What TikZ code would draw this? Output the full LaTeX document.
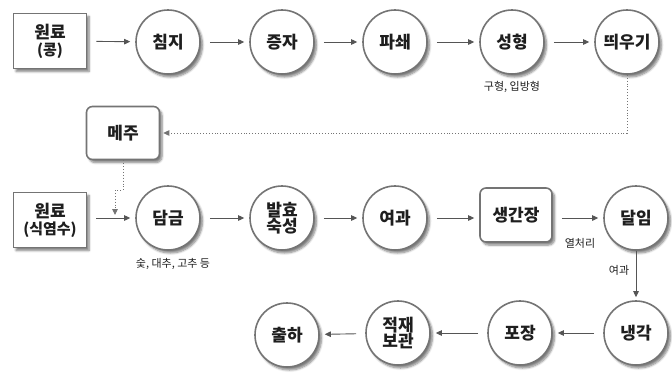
\documentclass[tikz,border=0pt]{standalone}
\usepackage{fontspec}
\setmainfont{Noto Sans CJK KR}
\usetikzlibrary{arrows.meta,shadows.blur}
\definecolor{edgegray}{HTML}{747474}
\definecolor{arrowgray}{HTML}{555555}
\definecolor{txt}{HTML}{1E1E1E}
\begin{document}
\begin{tikzpicture}[x=1pt,y=-1pt,
  shd/.style={blur shadow={shadow xshift=2.5pt,shadow yshift=-3pt,shadow blur steps=6,shadow opacity=50}},
  proc/.style={circle,draw=edgegray,line width=1.6pt,fill=white,minimum size=64pt,inner sep=0pt,shd,
    font=\fontsize{17}{19}\selectfont\bfseries,text=txt,align=center},
  srcbox/.style={rectangle,draw=edgegray,line width=1.6pt,fill=white,minimum width=73pt,minimum height=55pt,inner sep=0pt,shd,
    font=\fontsize{17}{19}\selectfont\bfseries,text=txt,align=center},
  rbox/.style={srcbox,rounded corners=6pt,minimum height=53pt},
  note/.style={font=\fontsize{11}{13}\selectfont,text=txt},
  flow/.style={draw=arrowgray,line width=0.9pt,-{Triangle[length=6pt,width=5.5pt]},shorten <=9pt,shorten >=5pt},
  dflow/.style={draw=edgegray,line width=0.9pt,dotted,-{Triangle[length=6pt,width=5.5pt]}}
]
\useasboundingbox (0,0) rectangle (672,373);
% row 1
\node[srcbox] (s1) at (50,41) {원료\\[-2pt]{\fontsize{15}{17}\selectfont (콩)}};
\node[proc] (c1) at (168,42) {침지};
\node[proc] (c2) at (282,42) {증자};
\node[proc] (c3) at (395,42) {파쇄};
\node[proc] (c4) at (512,42) {성형};
\node[proc] (c5) at (627,42) {띄우기};
\node[note] (n1) at (512,87) {구형, 입방형};
% row 2
\node[rbox] (meju) at (123,133) {메주};
\node[srcbox] (s2) at (50,220) {원료\\[-2pt]{\fontsize{15}{17}\selectfont (식염수)}};
\node[proc] (d1) at (168,218) {담금};
\node[proc] (d2) at (282,218) {발효\\[-3pt]숙성};
\node[proc] (d3) at (395,218) {여과};
\node[rbox,minimum width=72pt,minimum height=54pt] (raw) at (516,215) {생간장};
\node[proc] (d4) at (636,218) {달임};
\node[note] (n2) at (173,264) {숯, 대추, 고추 등};
\node[note] (n3) at (580,243) {열처리};
\node[note] (n4) at (619,270) {여과};
% row 3
\node[proc] (e1) at (636,333) {냉각};
\node[proc] (e2) at (520,333) {포장};
\node[proc] (e3) at (398,333) {적재\\[-3pt]보관};
\node[proc] (e4) at (287,335) {출하};
% arrows
\draw[flow] (s1) -- (c1);
\draw[flow] (c1) -- (c2);
\draw[flow] (c2) -- (c3);
\draw[flow] (c3) -- (c4);
\draw[flow] (c4) -- (c5);
\draw[dflow,shorten >=3pt] (c5.south) |- (meju.east);
\coordinate (j) at (115,215);
\draw[dflow] (meju.south) -- ++(0,30) -| (j);
\draw[flow] (s2.east |- d1) -- (d1);
\draw[flow] (d1) -- (d2);
\draw[flow] (d2) -- (d3);
\draw[flow] (d3) -- (raw.west |- d3);
\draw[flow] (raw.east |- d4) -- (d4);
\draw[flow,shorten <=0pt,shorten >=3pt] (d4) -- (e1);
\draw[flow] (e1) -- (e2);
\draw[flow] (e2) -- (e3);
\draw[flow] (e3) -- (e4);
\end{tikzpicture}
\end{document}
